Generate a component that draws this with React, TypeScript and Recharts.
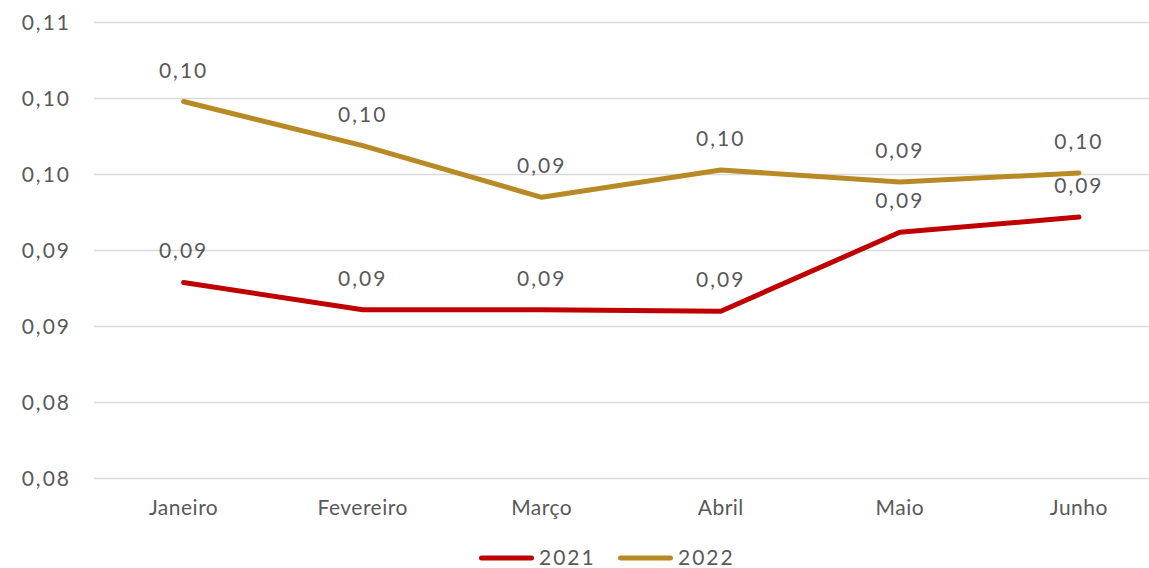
import React from 'react';
import { LineChart, Line, XAxis, YAxis, CartesianGrid, Legend, LabelList } from 'recharts';

const categories = ['Janeiro', 'Fevereiro', 'Março', 'Abril', 'Maio', 'Junho'];
const series2021 = [0.0882, 0.0864, 0.0864, 0.0863, 0.0915, 0.0925];
const series2022 = [0.1001, 0.0972, 0.0938, 0.0956, 0.0948, 0.0954];
const yTicks = [0.0753, 0.0803, 0.0853, 0.0903, 0.0953, 0.1003, 0.1053];

const data = categories.map((c, i) => ({ name: c, y2021: series2021[i], y2022: series2022[i] }));

const FONT = 'Lato, "Open Sans", sans-serif';
const TEXT = '#595959';
const fmt = (v: number) => v.toFixed(2).replace('.', ',');

const legendItems = [
  { label: '2021', color: '#C00000' },
  { label: '2022', color: '#B88A26' },
];

const LegendContent = () => (
  <svg width={290} height={34} style={{ display: 'block', overflow: 'visible' }}>
    {legendItems.map((it, i) => {
      const x0 = i * 139;
      return (
        <g key={it.label}>
          <line x1={x0 + 2.5} x2={x0 + 52.5} y1={15} y2={15} stroke={it.color} strokeWidth={5} strokeLinecap="round" />
          <text x={x0 + 60} y={22} fill={TEXT} fontSize={21} fontFamily={FONT} letterSpacing={2}>
            {it.label}
          </text>
        </g>
      );
    })}
  </svg>
);

export default function App() {
  return (
    <div style={{ position: 'fixed', left: 0, top: 0, width: 1149, height: 568, overflow: 'hidden', background: '#fff' }}>
      <LineChart width={1175} height={568} data={data} margin={{ top: 22.5, right: 6.5, left: 0, bottom: 25.5 }}>
        <CartesianGrid vertical={false} stroke="#D9D9D9" strokeWidth={1.5} />
        <XAxis
          dataKey="name"
          axisLine={false}
          tickLine={false}
          tickSize={0}
          tickMargin={22}
          height={30}
          interval={0}
          padding={{ left: 89.6, right: 89.6 }}
          tick={{ fill: TEXT, fontSize: 21, fontFamily: FONT, letterSpacing: 0.5 }}
        />
        <YAxis
          width={94}
          domain={[0.0753, 0.1053]}
          ticks={yTicks}
          axisLine={false}
          tickLine={false}
          tickSize={0}
          tickMargin={23}
          tickFormatter={fmt}
          tick={{ fill: TEXT, fontSize: 21, fontFamily: FONT, letterSpacing: 2 }}
        />
        <Legend
          verticalAlign="bottom"
          content={<LegendContent />}
          wrapperStyle={{ position: 'absolute', top: 543, left: 479, width: 290, height: 34 }}
        />
        <Line
          dataKey="y2021"
          stroke="#C00000"
          strokeWidth={5}
          strokeLinecap="round"
          strokeLinejoin="round"
          dot={false}
          isAnimationActive={false}
        >
          <LabelList dataKey="y2021" position="top" offset={24} formatter={fmt} fill={TEXT} fontSize={21} fontFamily={FONT} letterSpacing={2} />
        </Line>
        <Line
          dataKey="y2022"
          stroke="#B88A26"
          strokeWidth={5}
          strokeLinecap="round"
          strokeLinejoin="round"
          dot={false}
          isAnimationActive={false}
        >
          <LabelList dataKey="y2022" position="top" offset={24} formatter={fmt} fill={TEXT} fontSize={21} fontFamily={FONT} letterSpacing={2} />
        </Line>
      </LineChart>
    </div>
  );
}
